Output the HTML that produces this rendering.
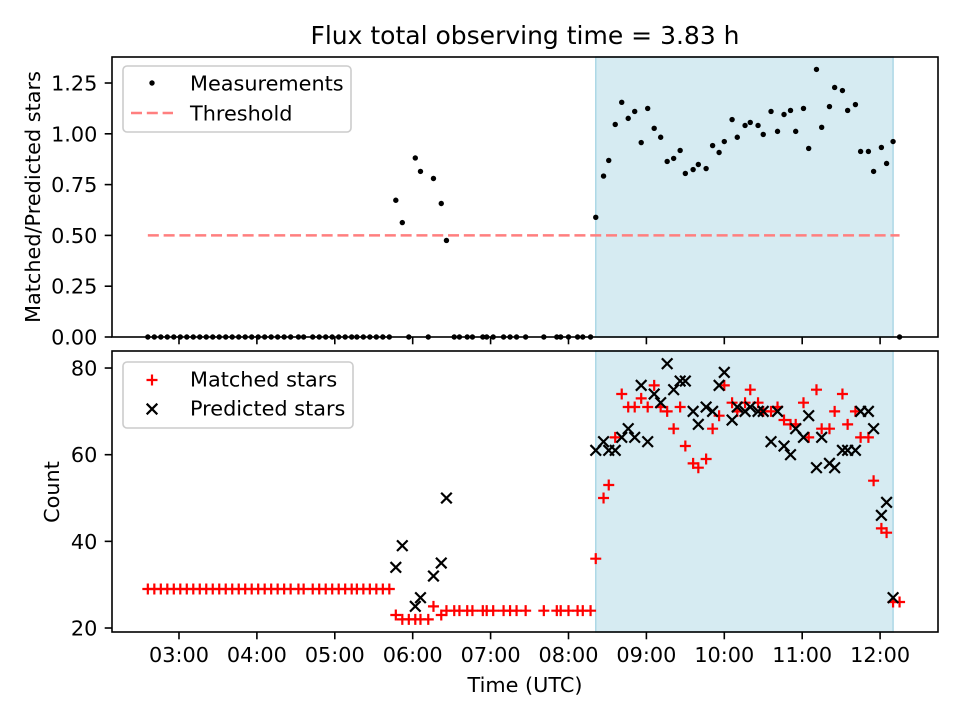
<!DOCTYPE html>
<html><head><meta charset="utf-8"><style>
html,body{margin:0;padding:0;background:#fff;}
svg{display:block;font-family:"DejaVu Sans","Liberation Sans",sans-serif;}
</style></head>
<body>
<svg id="chart" width="960" height="720" viewBox="0 0 960 720"></svg>
<script>
// times in minutes since 00:00 UTC
const times = [156,161,166,171,176,181,186,191,196,201,206,211,216,221,226,231,236,241,246,251,256,261,266,272,276,
283,288,293,298,303,308,313,317,322,327,332,337,342,
347,352,357,362,366,372,376,382,386,
392,396,402,406,414,417,422,430,435,440,447,461,471,474,480,487,491,497,
501,507,511,516,521,526,531,536,541,546,551,556,561,566,570,576,580,586,591,596,600,606,610,616,620,626,630,636,641,646,651,655,661,665,671,675,681,685,691,695,701,705,711,715,721,725,730,735];
const ratio = [0,0,0,0,0,0,0,0,0,0,0,0,0,0,0,0,0,0,0,0,0,0,0,0,0,
0,0,0,0,0,0,0,0,0,0,0,0,0,
0.673,0.563,0,0.881,0.815,0,0.780,0.657,0.475,
0,0,0,0,0,0,0,0,0,0,0,0,0,0,0,0,0,0,
0.589,0.792,0.869,1.046,1.155,1.076,1.110,0.957,1.125,1.027,0.983,0.864,0.879,0.918,0.805,0.824,0.849,0.829,0.942,0.908,0.962,1.070,0.983,1.041,1.056,1.041,0.997,1.110,1.012,1.095,1.115,1.012,1.125,0.928,1.317,1.032,1.134,1.228,1.213,1.115,1.144,0.913,0.913,0.815,0.933,0.854,0.962,0];
const matched = [29,29,29,29,29,29,29,29,29,29,29,29,29,29,29,29,29,29,29,29,29,29,29,29,29,
29,29,29,29,29,29,29,29,29,29,29,29,29,
23,22,22,22,22,22,25,23,24,
24,24,24,24,24,24,24,24,24,24,24,24,24,24,24,24,24,24,
36,50,53,64,74,71,71,73,71,76,71,70,66,71,62,58,57,59,66,69,76,72,70,72,75,72,70,70,71,68,67,67,72,64,75,66,66,70,74,67,70,64,64,54,43,42,26,26];
const predicted = [null,null,null,null,null,null,null,null,null,null,null,null,null,null,null,null,null,null,null,null,null,null,null,null,null,
null,null,null,null,null,null,null,null,null,null,null,null,null,
34,39,null,25,27,null,32,35,50,
null,null,null,null,null,null,null,null,null,null,null,null,null,null,null,null,null,null,
61,63,61,61,64,66,64,76,63,74,72,81,75,77,77,70,67,71,70,76,79,68,71,70,71,70,70,63,70,62,60,66,64,69,57,64,58,57,61,61,61,70,70,66,46,49,27,null];
const shadeRange = [501,730];
const threshold = 0.5;
const xTicks = [180,240,300,360,420,480,540,600,660,720];
const xTickLabels = ["03:00","04:00","05:00","06:00","07:00","08:00","09:00","10:00","11:00","12:00"];
const topTicks = [0,0.25,0.5,0.75,1.0,1.25];
const topTickLabels = ["0.00","0.25","0.50","0.75","1.00","1.25"];
const botTicks = [20,40,60,80];
const botTickLabels = ["20","40","60","80"];

const NS="http://www.w3.org/2000/svg";
const svg=document.getElementById('chart');
function mk(tag,attrs,parent){const e=document.createElementNS(NS,tag);for(const k in attrs)e.setAttribute(k,attrs[k]);(parent||svg).appendChild(e);return e;}
const L=112,R=938;
const xMin=128.4,xMax=764.6;
const X=t=>L+(t-xMin)/(xMax-xMin)*(R-L);
const T={top:57,bot:337,min:0,max:1.378};
const B={top:351,bot:632,min:19.08,max:83.93};
const Yt=v=>T.bot-(v-T.min)/(T.max-T.min)*(T.bot-T.top);
const Yb=v=>B.bot-(v-B.min)/(B.max-B.min)*(B.bot-B.top);
const FS='20.8';

// title
let e=mk('text',{x:525,y:44,'text-anchor':'middle','font-size':'25'});e.textContent="Flux total observing time = 3.83 h";



function panel(P,Y,ticks,labels,name,showX){
  const g=mk('g',{});
  
  
  const sh=mk('rect',{x:X(shadeRange[0]),y:P.top,width:X(shadeRange[1])-X(shadeRange[0]),height:P.bot-P.top,fill:'#add8e6','fill-opacity':'0.5',stroke:'#add8e6','stroke-width':'1.5'},g);
  
  
  ticks.forEach((v,i)=>{
    const y=Y(v);
    mk('line',{x1:L-7.3,x2:L,y1:y,y2:y,stroke:'#000','stroke-width':'1.6'},g);
    const t=mk('text',{x:L-14.6,y:y+7.5,'text-anchor':'end','font-size':FS},g);t.textContent=labels[i];
    
    
  });
  xTicks.forEach((v,i)=>{
    const x=X(v);
    mk('line',{x1:x,x2:x,y1:P.bot,y2:P.bot+7.3,stroke:'#000','stroke-width':'1.6'},g);
    if(showX){const t=mk('text',{x:x,y:P.bot+30,'text-anchor':'middle','font-size':FS},g);t.textContent=xTickLabels[i];
      
      }
  });
  return g;
}
const gTop=panel(T,Yt,topTicks,topTickLabels,'top-panel',false);
const gBot=panel(B,Yb,botTicks,botTickLabels,'bottom-panel',true);

// threshold
e=mk('line',{x1:X(times[0]),x2:X(times[times.length-1]),y1:Yt(threshold),y2:Yt(threshold),stroke:'#ff7f7f','stroke-width':'2.5','stroke-dasharray':'11,4.8'},gTop);


// measurements
times.forEach((t,i)=>{
  if(ratio[i]==null)return;
  const c=mk('circle',{cx:X(t),cy:Yt(ratio[i]),r:2.7,fill:'#000'},gTop);
  
  
});
function plus(x,y,col,parent,s){const p=mk('path',{d:`M${x-s},${y}H${x+s}M${x},${y-s}V${y+s}`,stroke:col,'stroke-width':'2.2',fill:'none'},parent);return p;}
function cross(x,y,col,parent,s){const p=mk('path',{d:`M${x-s},${y-s}L${x+s},${y+s}M${x-s},${y+s}L${x+s},${y-s}`,stroke:col,'stroke-width':'2.2',fill:'none'},parent);return p;}
times.forEach((t,i)=>{
  if(matched[i]==null)return;
  const p=plus(X(t),Yb(matched[i]),'#ff0000',gBot,5.5);
  
  
});
times.forEach((t,i)=>{
  if(predicted[i]==null)return;
  const p=cross(X(t),Yb(predicted[i]),'#000',gBot,5.3);
  
  
});
// frames
[T,B].forEach((P,j)=>{const r=mk('rect',{x:L,y:P.top,width:R-L,height:P.bot-P.top,fill:'none',stroke:'#000','stroke-width':'1.6'});
  
  });
// axis titles
e=mk('text',{x:0,y:0,'text-anchor':'middle','font-size':FS,transform:`translate(40,197) rotate(-90)`});e.textContent="Matched/Predicted stars";


e=mk('text',{x:0,y:0,'text-anchor':'middle','font-size':FS,transform:`translate(59,492) rotate(-90)`});e.textContent="Count";


e=mk('text',{x:525,y:692,'text-anchor':'middle','font-size':FS});e.textContent="Time (UTC)";


// legends
const lg1=mk('g',{});


mk('rect',{x:123,y:66,width:228,height:66,rx:4,fill:'#fff','fill-opacity':'0.8',stroke:'#ccc','stroke-width':'1.6'},lg1);
mk('circle',{cx:152,cy:83,r:2.7,fill:'#000'},lg1);
e=mk('text',{x:190,y:90.5,'font-size':FS},lg1);e.textContent="Measurements";


mk('line',{x1:131,x2:173,y1:113,y2:113,stroke:'#ff7f7f','stroke-width':'2.5','stroke-dasharray':'11,4.8'},lg1);
e=mk('text',{x:190,y:120.5,'font-size':FS},lg1);e.textContent="Threshold";


const lg2=mk('g',{});


mk('rect',{x:123,y:362,width:230,height:66,rx:4,fill:'#fff','fill-opacity':'0.8',stroke:'#ccc','stroke-width':'1.6'},lg2);
plus(152,380,'#ff0000',lg2,5.5);
e=mk('text',{x:190,y:386.5,'font-size':FS},lg2);e.textContent="Matched stars";


cross(152,409,'#000',lg2,5.3);
e=mk('text',{x:190,y:415.5,'font-size':FS},lg2);e.textContent="Predicted stars";


</script>
</body></html>
